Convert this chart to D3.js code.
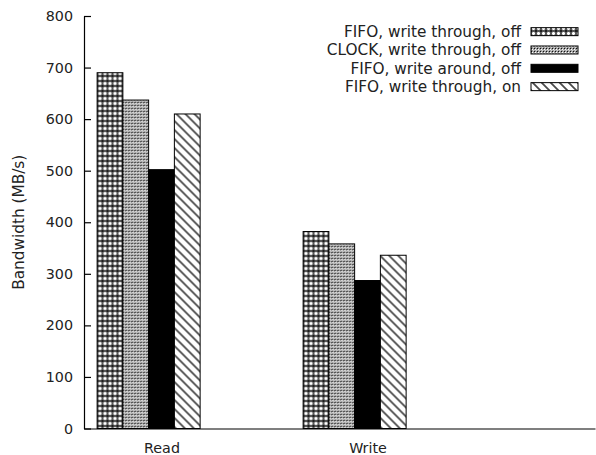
<!DOCTYPE html>
<html>
<head>
<meta charset="utf-8">
<script src="https://cdn.jsdelivr.net/npm/d3@7"></script>
<style>
  html, body { margin: 0; padding: 0; background: #fff; }
  svg { display: block; }
  text { font-family: "DejaVu Sans", sans-serif; fill: #222; }
</style>
</head>
<body>
<svg id="chart" width="596" height="455"></svg>
<script>
const categories = ["Read", "Write"];
const seriesNames = [
  "FIFO, write through, off",
  "CLOCK, write through, off",
  "FIFO, write around, off",
  "FIFO, write through, on"
];
const fifoWtOff  = [690, 382];
const clockWtOff = [637, 358];
const fifoWaOff  = [502, 287];
const fifoWtOn   = [610, 336];
const seriesValues = [fifoWtOff, clockWtOff, fifoWaOff, fifoWtOn];
const yTicks = [0, 100, 200, 300, 400, 500, 600, 700, 800];
const yLabel = "Bandwidth (MB/s)";

const plotL = 84, plotR = 595, plotT = 16, plotB = 428.5;
const svg = d3.select("#chart");

// patterns
const defs = svg.append("defs");
function px(p, x0, y0, w, h, c) {
  p.append("rect").attr("x", x0).attr("y", y0).attr("width", w).attr("height", h).attr("fill", c);
}
// 1: crosshatch (white holes in dark grid)
const p1 = defs.append("pattern").attr("id", "pat0").attr("patternUnits", "userSpaceOnUse")
  .attr("width", 5).attr("height", 5);
px(p1, 0, 0, 5, 5, "#fff");
px(p1, 0, 0, 5, 2, "#575757");
px(p1, 0, 0, 2, 5, "#575757");
px(p1, 0, 0, 2, 2, "#1e1e1e");
px(p1, 2, 2, 1, 1, "#bbb");
px(p1, 4, 2, 1, 1, "#bbb");
px(p1, 2, 4, 1, 1, "#bbb");
px(p1, 4, 4, 1, 1, "#bbb");
// 2: fine checker
const p2 = defs.append("pattern").attr("id", "pat1").attr("patternUnits", "userSpaceOnUse")
  .attr("width", 3).attr("height", 3);
px(p2, 0, 0, 3, 3, "#a0a0a0");
px(p2, 0, 0, 1, 1, "#111");
px(p2, 1, 1, 1, 1, "#fff");
px(p2, 2, 2, 1, 1, "#d8d8d8");
// 4: diagonal lines
const p4 = defs.append("pattern").attr("id", "pat3").attr("patternUnits", "userSpaceOnUse")
  .attr("width", 9).attr("height", 9);
px(p4, 0, 0, 9, 9, "#fff");
p4.append("path").attr("d", "M0,0L9,9M-1,8L1,10M8,-1L10,1")
  .attr("stroke", "#4a4a4a").attr("stroke-width", 1.8).attr("fill", "none");
const fills = ["url(#pat0)", "url(#pat1)", "#000", "url(#pat3)"];

// scales
const unit = 206 / 8;
const x = d3.scaleLinear().domain([(plotL - 161.5) / 206, (plotR - 161.5) / 206]).range([plotL, plotR]);
const xInner = d3.scaleBand().domain(seriesNames).range([-2.5 * unit, 1.5 * unit]);
const y = d3.scaleLinear().domain([0, 800]).range([plotB, plotT]);

// bars
categories.forEach((cat, ci) => {
  const g = svg.append("g").attr("transform", `translate(${x(ci)},0)`);
  seriesNames.forEach((s, si) => {
    const v = seriesValues[si][ci];
    g.append("rect")
      .attr("x", xInner(s)).attr("y", y(v))
      .attr("width", xInner.bandwidth()).attr("height", y(0) - y(v))
      .attr("fill", fills[si]).attr("stroke", "#000").attr("stroke-width", 1);
  });
});

// y axis
const yAxis = d3.axisLeft(y).tickValues(yTicks).tickSizeInner(-7).tickSizeOuter(0).tickPadding(11);
const gy = svg.append("g").attr("transform", `translate(${plotL},0)`).call(yAxis);
gy.select(".domain").attr("stroke", "#000").attr("stroke-width", 1.2);
gy.selectAll(".tick line").attr("stroke", "#000").attr("stroke-width", 1.2);
gy.selectAll(".tick text").attr("font-size", 14.3).attr("font-family", "DejaVu Sans").attr("fill", "#333");

// x axis (no ticks)
const xAxis = d3.axisBottom(x).tickValues(categories.map((c, i) => i)).tickFormat((d) => categories[d])
  .tickSize(0).tickPadding(14);
const gx = svg.append("g").attr("transform", `translate(0,${plotB})`).call(xAxis);
gx.select(".domain").attr("stroke", "#000").attr("stroke-width", 1.2);
gx.selectAll(".tick text").attr("font-size", 14.3).attr("font-family", "DejaVu Sans").attr("fill", "#333");

// y label
svg.append("text")
  .attr("transform", `translate(24,${(plotT + plotB) / 2}) rotate(-90)`)
  .attr("text-anchor", "middle").attr("font-size", 15.3).attr("fill", "#333")
  .text(yLabel);

// legend
const legendY = d3.scaleBand().domain(seriesNames).range([22.5, 95.8]);
const lg = svg.append("g");
seriesNames.forEach((s, si) => {
  const cy = legendY(s) + legendY.bandwidth() / 2;
  lg.append("text").attr("x", 521).attr("y", cy).attr("dy", "0.35em")
    .attr("text-anchor", "end").attr("font-size", 15.3).attr("fill", "#333").text(s);
  lg.append("rect").attr("x", 531).attr("y", cy - 4).attr("width", 47).attr("height", 8)
    .attr("fill", fills[si]).attr("stroke", "#000").attr("stroke-width", 1);
});
</script>
</body>
</html>
